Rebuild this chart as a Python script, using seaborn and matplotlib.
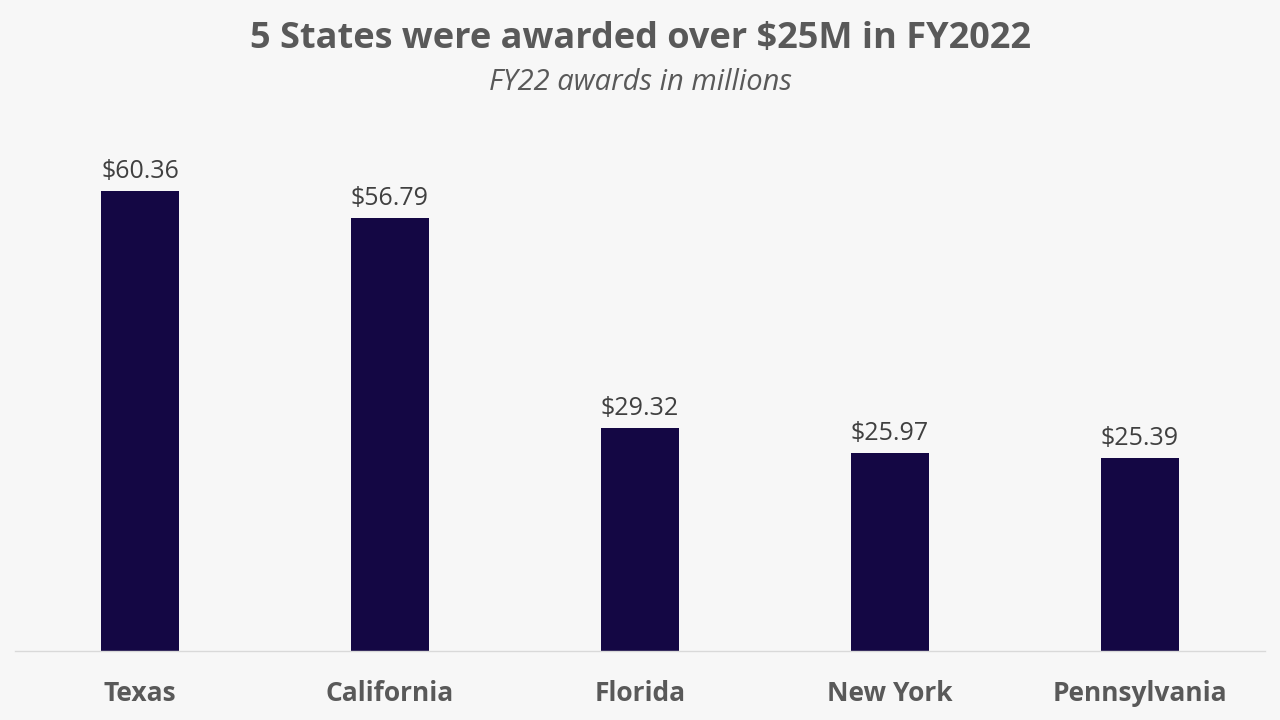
import matplotlib
matplotlib.use("Agg")
import matplotlib.pyplot as plt
import seaborn as sns
import pandas as pd

# Dados
states = ["Texas", "California", "Florida", "New York", "Pennsylvania"]
awards = [60.36, 56.79, 29.32, 25.97, 25.39]
value_labels = ["$60.36", "$56.79", "$29.32", "$25.97", "$25.39"]

df = pd.DataFrame({"state": states, "award": awards})

sns.set_theme(style="white")
plt.rcParams["font.family"] = ["Open Sans", "DejaVu Sans"]

bg = "#f7f7f7"
fig = plt.figure(figsize=(12.8, 7.2), dpi=100, facecolor=bg)
ax = fig.add_axes([15 / 1280, 69 / 720, 1250 / 1280, 521 / 720], facecolor=bg)

sns.barplot(data=df, x="state", y="award", color="#140744", width=0.31,
            saturation=1, linewidth=0, ax=ax)

ax.set_xlim(-0.5, 4.5)
ax.set_ylim(0, 521 / 7.62)

for i, (v, lab) in enumerate(zip(awards, value_labels)):
    ax.annotate(lab, (i, v), xytext=(0, 5), textcoords="offset points",
                ha="center", va="bottom", fontsize=18, color="#404040")

for s in ["top", "right", "left"]:
    ax.spines[s].set_visible(False)
ax.spines["bottom"].set_color("#d9d9d9")
ax.spines["bottom"].set_linewidth(1)
ax.set_yticks([])
ax.set_xlabel("")
ax.set_ylabel("")
ax.tick_params(axis="x", length=0, pad=21)
for t in ax.get_xticklabels():
    t.set_fontsize(19)
    t.set_fontweight("bold")
    t.set_color("#595959")

fig.text(0.5, 1 - 39 / 720, "5 States were awarded over $25M in FY2022",
         ha="center", va="center", fontsize=26, fontweight="bold", color="#595959")
fig.text(0.5, 1 - 83 / 720, "FY22 awards in millions", ha="center", va="center",
         fontsize=21, style="italic", color="#595959")

fig.savefig("out.png", dpi=100, facecolor=bg)
